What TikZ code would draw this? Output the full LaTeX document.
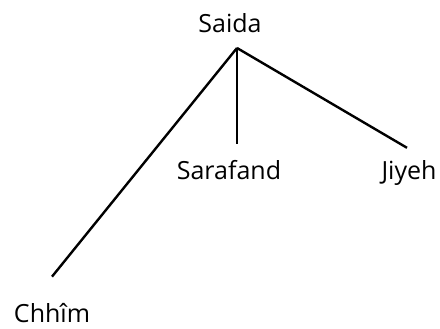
\documentclass[tikz,border=0pt]{standalone}
\usepackage{fontspec}
\setmainfont{Open Sans}
\usetikzlibrary{positioning}

\begin{document}
\begin{tikzpicture}[
  x=1pt, y=-1pt,
  place/.style={inner sep=0pt, anchor=base, font=\fontsize{25}{30}\selectfont},
  branch/.style={line width=2.4pt}
]
\useasboundingbox (0,0) rectangle (440,329);
\node[place] (saida)    at (230,33)  {Saida};
\node[place] (chhim)    at (52,323)  {Chhîm};
\node[place] (sarafand) at (229,179) {Sarafand};
\node[place] (jiyeh)    at (409,179) {Jiyeh};
\coordinate (fork) at (237,48);
\draw[branch] (fork) -- ([yshift=27pt]chhim.north);
\draw[branch] (fork) -- ([yshift=16pt]fork |- sarafand.north);
\draw[branch] (fork) -- ([xshift=-2pt, yshift=12pt]jiyeh.north);
\end{tikzpicture}
\end{document}
